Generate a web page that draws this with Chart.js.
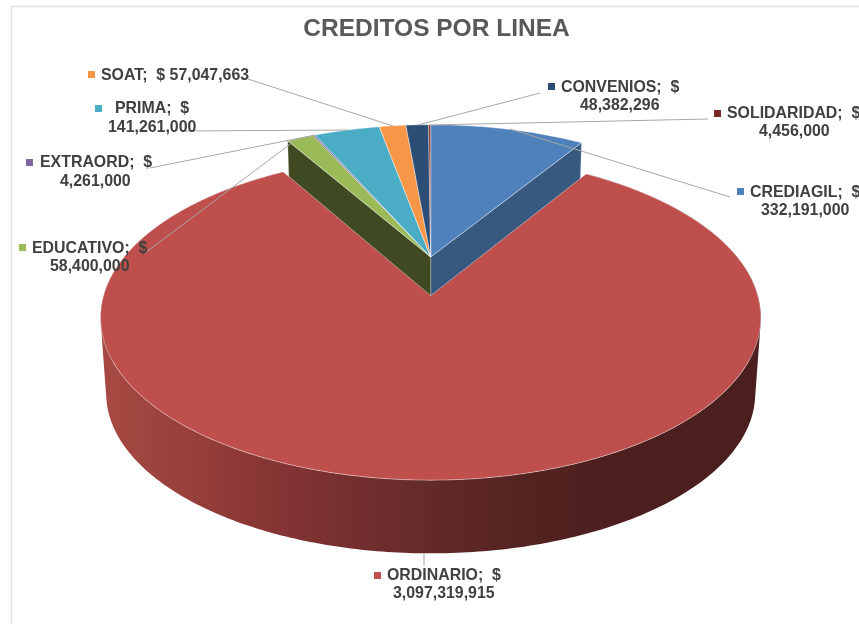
<!DOCTYPE html>
<html>
<head>
<meta charset="utf-8">
<style>html,body{margin:0;padding:0;background:#fff}#wrap{width:859px;height:624px}</style>
<script src="https://cdn.jsdelivr.net/npm/chart.js@4"></script>
</head>
<body>
<div id="wrap"><canvas id="c" width="859" height="624"></canvas></div>
<script>
const titleText = 'CREDITOS POR LINEA';
const categories = ['CREDIAGIL','ORDINARIO','EDUCATIVO','EXTRAORD','PRIMA','SOAT','CONVENIOS','SOLIDARIDAD'];
const creditValues = [332191000,3097319915,58400000,4261000,141261000,57047663,48382296,4456000];
const sliceColors = ['#4F81BD','#BE4F4C','#9BBB59','#8064A2','#4BACC6','#F79646','#2C4D75','#772C2A'];
const markerColors = ['#4F81BD','#C0504D','#9BBB59','#8064A2','#4BACC6','#F79646','#2C4D75','#772C2A'];

// layout of the data labels (separate from the data)
const labelLayout = [
  {line1:[750,193], line2:[761,211], mark:[737,188], leader:[[730,197],[510,129]]},
  {line1:[387,576], line2:[393,594], mark:[374,572], leader:[[424,566],[424,553]]},
  {line1:[32,249],  line2:[50,267],  mark:[19,244],  leader:[[145,253],[293,142]]},
  {line1:[40,163],  line2:[60,182],  mark:[26,159],  leader:[[150,168],[315,135]]},
  {line1:[115,109], line2:[108,128], mark:[95,105],  leader:[[183,131],[348,130]]},
  {line1:[101,76],  oneLine:true,    mark:[88,71],   leader:[[248,79],[393,126]]},
  {line1:[561,88],  line2:[580,106], mark:[548,83],  leader:[[540,93],[418,125]]},
  {line1:[727,114], line2:[759,132], mark:[714,110], leader:[[708,119],[430,125]]}
];

// perspective projection of the flat pie onto the tilted disc
const view = {cx:430.7, cy:257, rx:316.5, ry:149.5, k:0.13, explode:0.25, drop:77, shrink:0.983};
const explodedIndex = 1;
function project(u, v, d, low){
  const vv = v + d, w = 1 - view.k * vv;
  let x = u * view.rx / w, y = vv * view.ry / w;
  if (low){ x *= view.shrink; y = y * view.shrink + view.drop; }
  return [view.cx + x, view.cy + y];
}
function rim(a, d, low){ return project(Math.cos(a), Math.sin(a), d, low); }
function tracePoly(ctx, pts){
  pts.forEach((p,i)=> i ? ctx.lineTo(p[0],p[1]) : ctx.moveTo(p[0],p[1]));
  ctx.closePath();
}
function poly(ctx, pts){
  ctx.beginPath();
  tracePoly(ctx, pts);
}
function signedArea(pts){
  let s = 0;
  pts.forEach((p,i)=>{ const q = pts[(i+1)%pts.length]; s += p[0]*q[1]-q[0]*p[1]; });
  return s;
}
function topFace(ctx, arc, d){
  const pts = [project(0,0,d,false)];
  const n = Math.max(2, Math.ceil((arc.endAngle-arc.startAngle)/0.01));
  for (let i=0;i<=n;i++) pts.push(rim(arc.startAngle+(arc.endAngle-arc.startAngle)*i/n, d, false));
  poly(ctx, pts);
  ctx.fillStyle = arc.options.backgroundColor;
  ctx.fill();
  ctx.lineWidth = 1;
  ctx.lineJoin = 'round';
  ctx.strokeStyle = 'rgba(255,255,255,0.42)';
  ctx.stroke();
}
function cutWall(ctx, angle, color){
  poly(ctx, [project(0,0,0,false), rim(angle,0,false), rim(angle,0,true), project(0,0,0,true)]);
  ctx.fillStyle = color;
  ctx.fill();
  ctx.strokeStyle = 'rgba(255,255,255,0.25)';
  ctx.lineWidth = 1;
  ctx.stroke();
}
const pie3d = {
  id:'pie3d',
  beforeDraw(chart){
    const ctx = chart.ctx;
    ctx.save();
    ctx.strokeStyle = '#E0E0E0'; ctx.lineWidth = 1.5;
    ctx.beginPath();
    ctx.moveTo(11.5, chart.height);
    ctx.lineTo(11.5, 6.5);
    ctx.lineTo(chart.width, 6.5);
    ctx.stroke();
    ctx.restore();
  },
  beforeDatasetDraw(chart){
    const ctx = chart.ctx, arcs = chart.getDatasetMeta(0).data;
    ctx.save();
    // cut faces behind the pulled-out slice
    cutWall(ctx, arcs[0].endAngle, '#37597F');
    cutWall(ctx, arcs[2].startAngle, '#404A22');
    arcs.forEach((a,i)=>{ if(i!==explodedIndex) topFace(ctx,a,0); });
    // outer wall of the pulled-out slice: one path of same-winding strips
    const red = arcs[explodedIndex];
    const g = ctx.createLinearGradient(100,0,760,0);
    [[0,'#A84A44'],[0.15,'#963E39'],[0.3,'#803232'],[0.5,'#642A2A'],[0.66,'#522220'],[0.8,'#4B1F1E'],[1,'#4B1F1E']]
      .forEach(s=>g.addColorStop(s[0],s[1]));
    const from = red.startAngle, to = red.endAngle, n = 360;
    ctx.beginPath();
    for (let i=0;i<n;i++){
      const a = from+(to-from)*i/n, b = from+(to-from)*(i+1)/n;
      let q = [rim(a,view.explode,false),rim(b,view.explode,false),rim(b,view.explode,true),rim(a,view.explode,true)];
      if (signedArea(q) < 0) q = q.reverse();
      tracePoly(ctx, q);
    }
    ctx.fillStyle = g;
    ctx.fill();
    topFace(ctx, red, view.explode);
    ctx.restore();
    return false;
  },
  afterDatasetsDraw(chart){
    const ctx = chart.ctx;
    ctx.save();
    ctx.strokeStyle = '#A6A6A6'; ctx.lineWidth = 1;
    labelLayout.forEach(l=>{
      ctx.beginPath();
      ctx.moveTo(l.leader[0][0], l.leader[0][1]);
      ctx.lineTo(l.leader[1][0], l.leader[1][1]);
      ctx.stroke();
    });
    ctx.font = 'bold 15.9px "Liberation Sans"';
    ctx.textBaseline = 'middle'; ctx.textAlign = 'left';
    labelLayout.forEach((l,i)=>{
      ctx.fillStyle = markerColors[i];
      ctx.fillRect(l.mark[0], l.mark[1], 7, 7);
      ctx.fillStyle = '#404040';
      const money = creditValues[i].toLocaleString('en-US');
      if (l.oneLine) {
        ctx.fillText(categories[i] + ';  $ ' + money, l.line1[0], l.line1[1]);
      } else {
        ctx.fillText(categories[i] + ';  $', l.line1[0], l.line1[1]);
        ctx.fillText(money, l.line2[0], l.line2[1]);
      }
    });
    ctx.restore();
  }
};
new Chart(document.getElementById('c'), {
  type:'pie',
  plugins:[pie3d],
  data:{labels:categories, datasets:[{data:creditValues, backgroundColor:sliceColors, borderWidth:0}]},
  options:{
    responsive:false,
    animation:false,
    layout:{padding:{left:14}},
    plugins:{
      legend:{display:false},
      tooltip:{enabled:false},
      title:{display:true, text:titleText, color:'#595959', font:{family:'"Liberation Sans"', size:24.5, weight:'bold'}, padding:{top:15,bottom:8}}
    }
  }
});
</script>
</body>
</html>
